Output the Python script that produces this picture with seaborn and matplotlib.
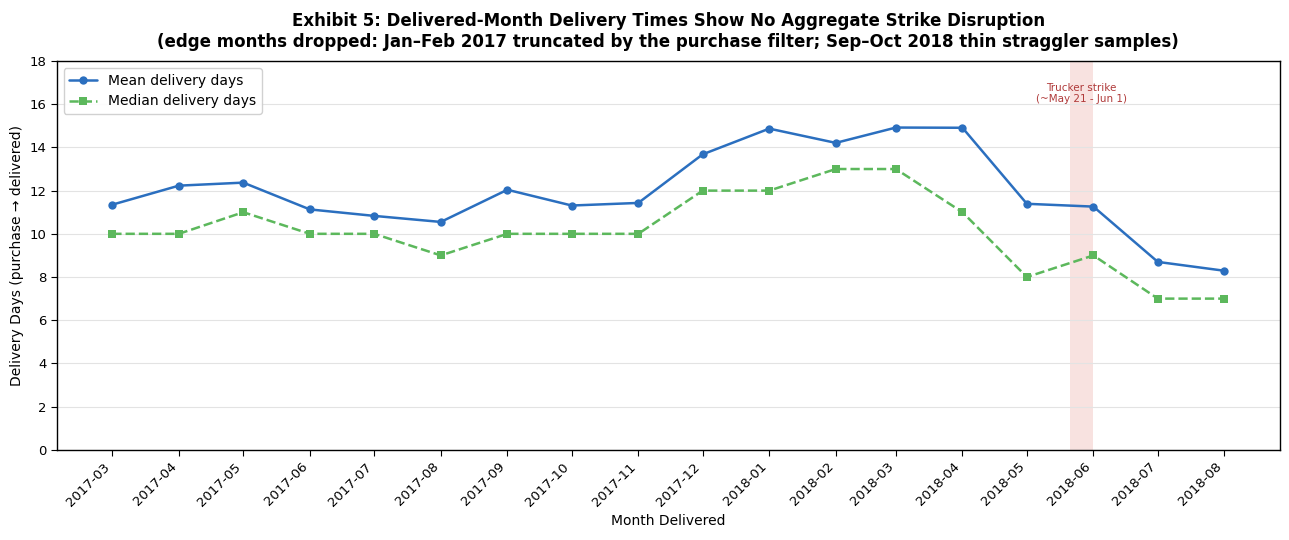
import pandas as pd
import matplotlib
matplotlib.use("Agg")
import matplotlib.pyplot as plt
import matplotlib.dates as mdates
import seaborn as sns

# ---- data ----
months = ["2017-03", "2017-04", "2017-05", "2017-06", "2017-07", "2017-08",
          "2017-09", "2017-10", "2017-11", "2017-12", "2018-01", "2018-02",
          "2018-03", "2018-04", "2018-05", "2018-06", "2018-07", "2018-08"]
mean_days = [11.35, 12.23, 12.37, 11.13, 10.83, 10.55, 12.04, 11.31, 11.43, 13.68,
             14.87, 14.21, 14.92, 14.91, 11.39, 11.26, 8.70, 8.29]
median_days = [10, 10, 11, 10, 10, 9, 10, 10, 10, 12, 12, 13, 13, 11, 8, 9, 7, 7]

strike_start = "2018-05-21"
strike_end = "2018-06-01"

df = pd.DataFrame({"month": pd.to_datetime(months),
                   "mean": mean_days, "median": median_days})

sns.set_style("white")
plt.rcParams["font.family"] = ["DejaVu Sans"]
for k in ["text.color", "axes.labelcolor", "xtick.color", "ytick.color"]:
    plt.rcParams[k] = "black"

fig, ax = plt.subplots(figsize=(12.89, 5.4), dpi=100)

ax.axvspan(pd.Timestamp(strike_start), pd.Timestamp(strike_end),
           color="#e8a09a", alpha=0.3, lw=0, zorder=0)

sns.lineplot(data=df, x="month", y="mean", ax=ax, color="#2b6fbf", lw=1.8,
             marker="o", markersize=6, markeredgewidth=0, label="Mean delivery days")
sns.lineplot(data=df, x="month", y="median", ax=ax, color="#5cb85c", lw=1.8,
             linestyle="--", marker="s", markersize=6, markeredgewidth=0,
             label="Median delivery days")

mid = pd.Timestamp(strike_start) + (pd.Timestamp(strike_end) - pd.Timestamp(strike_start)) / 2
ax.text(mid, 16.5, "Trucker strike\n(~May 21 - Jun 1)", ha="center", va="center",
        fontsize=7.5, color="#b03a3a")

ax.set_ylim(0, 18)
ax.set_yticks(range(0, 19, 2))
ax.margins(x=0.05)
ax.set_xticks(df["month"])
ax.xaxis.set_major_formatter(mdates.DateFormatter("%Y-%m"))
plt.setp(ax.get_xticklabels(), rotation=45, ha="right")
ax.tick_params(axis="both", labelsize=9.5, length=4, width=0.8, direction="out",
               bottom=True, left=True)

ax.yaxis.grid(True, color="#e3e3e3", lw=0.8)
ax.set_axisbelow(True)
for s in ax.spines.values():
    s.set_color("black")
    s.set_linewidth(1)

ax.set_xlabel("Month Delivered", fontsize=10)
ax.set_ylabel("Delivery Days (purchase \u2192 delivered)", fontsize=10)
ax.set_title("Exhibit 5: Delivered-Month Delivery Times Show No Aggregate Strike Disruption\n"
             "(edge months dropped: Jan\u2013Feb 2017 truncated by the purchase filter; "
             "Sep\u2013Oct 2018 thin straggler samples)",
             fontsize=12, fontweight="bold", pad=10)
ax.legend(loc="upper left", fontsize=10, frameon=True, framealpha=0.9)

plt.subplots_adjust(left=0.044, right=0.993, top=0.887, bottom=0.167)
plt.savefig("out.png", dpi=100)
